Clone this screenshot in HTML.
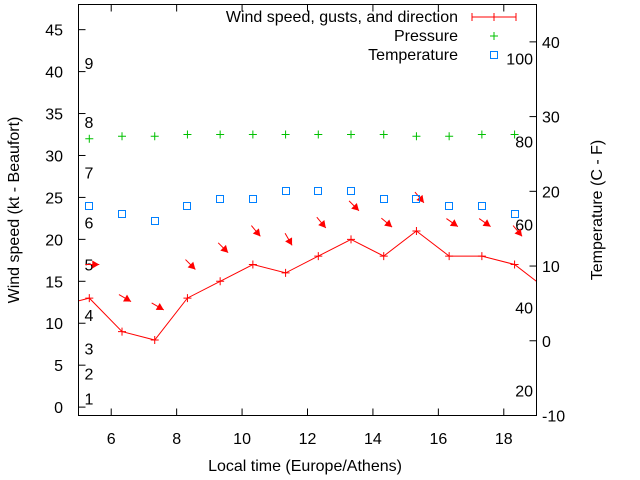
<!DOCTYPE html>
<html><head><meta charset="utf-8"><style>
html,body{margin:0;padding:0;background:#fff}
svg{display:block;font-family:"Liberation Sans",sans-serif}
</style></head><body>
<svg id="chart" width="640" height="480" viewBox="0 0 640 480" xmlns="http://www.w3.org/2000/svg">
<defs><clipPath id="clip"><rect x="78.5" y="4.5" width="458" height="411"/></clipPath></defs>
<g id="axes"></g>
<g id="marks" clip-path="url(#clip)"></g>
<rect x="78.5" y="4.5" width="458" height="411" fill="none" stroke="#000" stroke-width="1"/>
<text x="305" y="471" font-size="16" text-anchor="middle">Local time (Europe/Athens)</text>
<text transform="translate(19,210) rotate(-90)" font-size="16" text-anchor="middle">Wind speed (kt - Beaufort)</text>
<text transform="translate(602,210) rotate(-90)" font-size="16" text-anchor="middle">Temperature (C - F)</text>
<g>
<text x="458" y="22" font-size="16" text-anchor="end">Wind speed, gusts, and direction</text>
<text x="458" y="41" font-size="16" text-anchor="end">Pressure</text>
<text x="458" y="60" font-size="16" text-anchor="end">Temperature</text>
<g stroke="red"><line x1="472" y1="17" x2="516" y2="17"/><line x1="472" y1="13" x2="472" y2="21"/><line x1="516" y1="13" x2="516" y2="21"/><line x1="494" y1="13" x2="494" y2="21"/></g>
<g stroke="#00c000"><line x1="490" y1="36" x2="498" y2="36"/><line x1="494" y1="32" x2="494" y2="40"/></g>
<rect x="490.5" y="51.5" width="7" height="7" fill="none" stroke="#0080ff"/>
</g>
</svg>
<script>
const times = [4.33,5.33,6.33,7.33,8.33,9.33,10.33,11.33,12.33,13.33,14.33,15.33,16.33,17.33,18.33,19.33];
const windSpeed = [12,13,9,8,13,15,17,16,18,20,18,21,18,18,17,14];
const gustSpeed = [null,17,13,12,17,19,21,20,22,24,22,25,22,22,21,null];
const windAngle = [null,0,30,30,45,45,50,60,50,45,40,50,35,35,50,null];
const pressure = [null,32,32.3,32.3,32.5,32.5,32.5,32.5,32.5,32.5,32.5,32.3,32.3,32.5,32.5,null];
const temperature = [null,18,17,16,18,19,19,20,20,20,19,19,18,18,17,null];
const xTicks = [6,8,10,12,14,16,18];
const yTicks = [0,5,10,15,20,25,30,35,40,45];
const y2Ticks = [-10,0,10,20,30,40];
const fahrenheitLabels = [20,40,60,80,100];
const beaufortLabels = [1,2,3,4,5,6,7,8,9];
const beaufortKt = [1,4,7,11,17,22,28,34,41];

const NS="http://www.w3.org/2000/svg";
const L=78.5,R=536.5,T=4.5,B=415.5;
const sx=v=>L+(v-5)/(19-5)*(R-L);
const sy=v=>B-(v+1)/(48+1)*(B-T);
const sy2=v=>B-(v+10)/(45+10)*(B-T);
function mk(tag,attrs,parent){const e=document.createElementNS(NS,tag);for(const k in attrs)e.setAttribute(k,attrs[k]);parent.appendChild(e);return e;}
const axes=document.getElementById('axes'),marks=document.getElementById('marks');

xTicks.forEach(v=>{const x=sx(v);
 const t=mk('line',{x1:x,y1:B,x2:x,y2:B-7,stroke:'#000'},axes);
 
 
 const t2=mk('line',{x1:x,y1:T,x2:x,y2:T+7,stroke:'#000'},axes);
 
 
 const tx=mk('text',{x:x,y:444,'font-size':16,'text-anchor':'middle'},axes);tx.textContent=v;
 
 
});
yTicks.forEach(v=>{const y=sy(v);
 const t=mk('line',{x1:L,y1:y,x2:L+7,y2:y,stroke:'#000'},axes);
 
 
 const tx=mk('text',{x:63,y:y+6,'font-size':16,'text-anchor':'end'},axes);tx.textContent=v;
 
 
});
y2Ticks.forEach(v=>{const y=sy2(v);
 const t=mk('line',{x1:R,y1:y,x2:R-7,y2:y,stroke:'#000'},axes);
 
 
 const tx=mk('text',{x:542,y:y+6,'font-size':16},axes);tx.textContent=v;
 
 
});
fahrenheitLabels.forEach(f=>{const c=(f-32)*5/9;
 const tx=mk('text',{x:533,y:sy2(c)+6,'font-size':16,'text-anchor':'end'},axes);tx.textContent=f;
 
 
});
beaufortLabels.forEach((b,i)=>{
 const tx=mk('text',{x:89,y:sy(beaufortKt[i])+6,'font-size':16,'text-anchor':'middle'},axes);tx.textContent=b;
 
 
});

const pts=times.map((t,i)=>sx(t).toFixed(1)+','+sy(windSpeed[i]).toFixed(1)).join(' ');
const pl=mk('polyline',{points:pts,fill:'none',stroke:'red','stroke-width':1},marks);


times.forEach((t,i)=>{const x=sx(t),y=sy(windSpeed[i]);
 const p=mk('path',{d:`M${x-4},${y}H${x+4}M${x},${y-4}V${y+4}`,stroke:'red'},marks);
 
 
 if(gustSpeed[i]!=null){
  const cx=x+3,cy=sy(gustSpeed[i]),a=windAngle[i]*Math.PI/180,len=14;
  const dx=Math.cos(a),dy=Math.sin(a);
  const x1=cx-dx*len/2,y1=cy-dy*len/2,x2=cx+dx*len/2,y2=cy+dy*len/2;
  const g=mk('g',{},marks);
  
  
  mk('line',{x1:x1,y1:y1,x2:x2,y2:y2,stroke:'red'},g);
  const hx=x2-dx*7,hy=y2-dy*7,px=-dy*4,py=dx*4;
  mk('polygon',{points:`${x2},${y2} ${hx+px},${hy+py} ${hx-px},${hy-py}`,fill:'red'},g);
 }
 if(pressure[i]!=null){const py=sy(pressure[i]);
  const q=mk('path',{d:`M${x-4},${py}H${x+4}M${x},${py-4}V${py+4}`,stroke:'#00c000'},marks);
  
  
 }
 if(temperature[i]!=null){const ty=sy2(temperature[i]);
  const r=mk('rect',{x:Math.round(x)-3.5,y:Math.round(ty)-3.5,width:7,height:7,fill:'none',stroke:'#0080ff'},marks);
  
  
 }
});
</script>
</body></html>
